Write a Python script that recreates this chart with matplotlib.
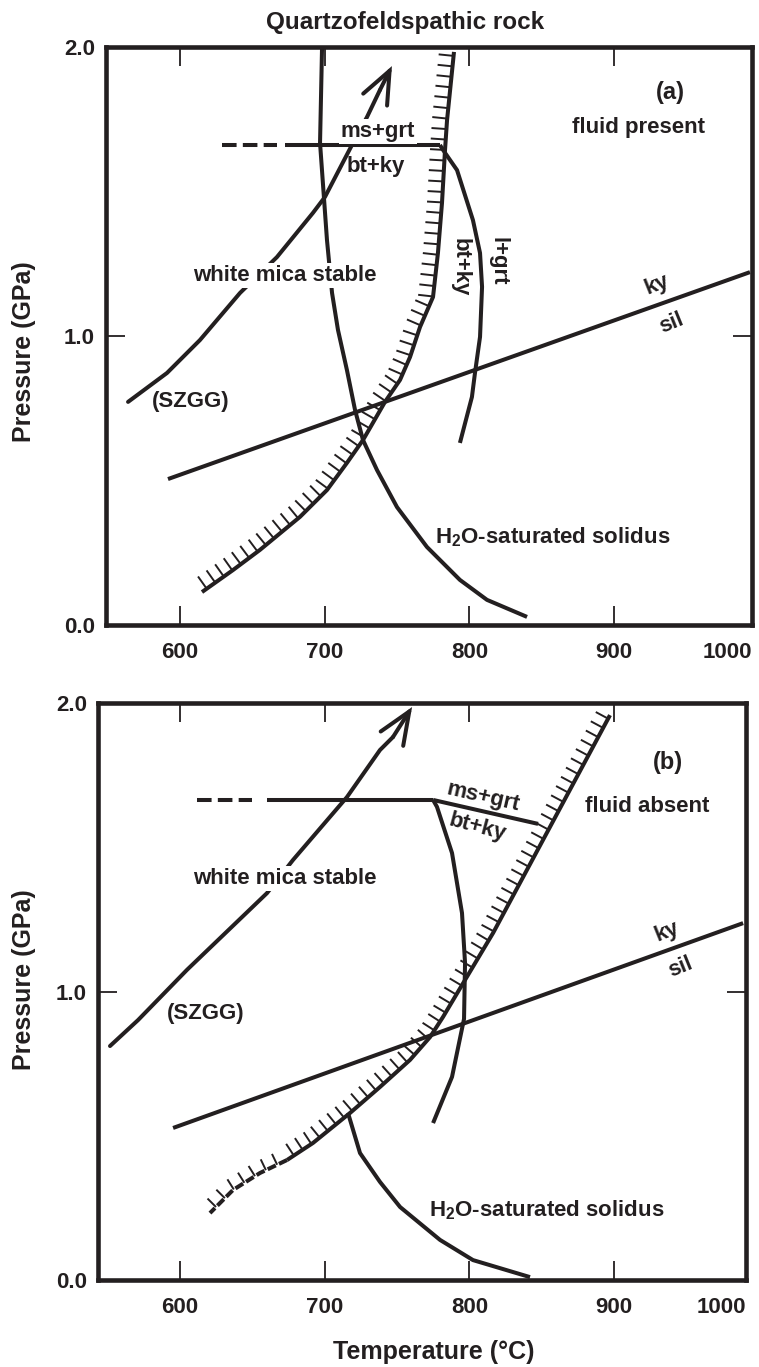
import numpy as np
import matplotlib
matplotlib.use('Agg')
import matplotlib.pyplot as plt
from matplotlib.collections import LineCollection

plt.rcParams['font.family'] = ['Liberation Sans', 'DejaVu Sans']
plt.rcParams['font.weight'] = 'bold'
plt.rcParams['mathtext.fontset'] = 'custom'
plt.rcParams['mathtext.bf'] = 'Liberation Sans:bold'
plt.rcParams['mathtext.rm'] = 'Liberation Sans:bold'
plt.rcParams['mathtext.default'] = 'bf'
plt.rcParams['lines.scale_dashes'] = False

INK = '#231f20'

# ---------------- data: panel (a) fluid present ----------------
a_solidus_T = [698.2, 696.8, 701.6, 705.1, 709.2, 715.4, 721.0, 726.5, 736.2, 750.0, 770.7, 793.5, 812.2, 839.9]
a_solidus_P = [2.0, 1.668, 1.332, 1.149, 1.021, 0.882, 0.744, 0.640, 0.536, 0.408, 0.270, 0.156, 0.087, 0.028]

a_hatch_T = [789.4, 784.6, 783.2, 781.1, 778.3, 774.9, 765.9, 759.0, 752.1, 741.7, 726.5,
             715.4, 701.6, 682.9, 655.3, 636.6, 615.2]
a_hatch_P = [1.983, 1.747, 1.644, 1.460, 1.287, 1.135, 1.031, 0.927, 0.848, 0.772, 0.640,
             0.561, 0.467, 0.374, 0.260, 0.190, 0.114]

a_path_T = [564.1, 591.0, 613.8, 641.5, 667.0, 691.9, 700.2, 719.6, 729.3, 738.2, 746.5]
a_path_P = [0.772, 0.872, 0.986, 1.149, 1.273, 1.426, 1.481, 1.668, 1.758, 1.851, 1.934]

a_rxn_dash_T = [629.0, 667.0]
a_rxn_solid_T = [672.6, 779.7]
a_rxn_P = 1.661

a_lgrt_T = [779.7, 781.8, 791.5, 802.5, 807.4, 808.8, 807.4, 803.9, 801.8, 793.5]
a_lgrt_P = [1.661, 1.644, 1.574, 1.401, 1.287, 1.170, 0.997, 0.872, 0.789, 0.630]

a_kysil_T = [591.7, 994.0]
a_kysil_P = [0.505, 1.221]

# ---------------- data: panel (b) fluid absent ----------------
b_path_T = [551.6, 571.0, 604.8, 660.1, 678.1, 715.4, 738.2, 747.2, 760.4]
b_path_P = [0.811, 0.901, 1.075, 1.341, 1.456, 1.674, 1.837, 1.882, 1.986]

b_rxn_dash_T = [611.8, 649.8]
b_rxn_solid_T = [660.1, 774.9]
b_rxn_P = 1.664
b_msgrt_T = [774.9, 847.5]
b_msgrt_P = [1.664, 1.581]

b_btky_T = [774.9, 777.6, 788.0, 794.9, 797.0, 796.3, 788.0, 774.9]
b_btky_P = [1.664, 1.640, 1.480, 1.272, 1.099, 0.905, 0.704, 0.544]

b_hatch_T = [897.2, 816.4, 797.0, 781.8, 772.8, 759.0, 738.2, 717.5, 691.9, 674.0]
b_hatch_P = [1.958, 1.203, 1.040, 0.912, 0.842, 0.763, 0.669, 0.579, 0.475, 0.416]
b_hatch_dash_T = [674.0, 655.3, 636.6, 620.7]
b_hatch_dash_P = [0.416, 0.371, 0.312, 0.232]

b_solidus_T = [716.1, 724.4, 738.2, 752.1, 779.7, 802.5, 841.9]
b_solidus_P = [0.579, 0.440, 0.340, 0.253, 0.139, 0.069, 0.010]

b_kysil_T = [595.2, 989.2]
b_kysil_P = [0.527, 1.237]

x_ticks = [600, 700, 800, 900]
x_ticklabels = ['600', '700', '800', '900']
y_ticks = [0.0, 1.0, 2.0]
y_ticklabels = ['0.0', '1.0', '2.0']

LW = 2.9
FS = 16

fig = plt.figure(figsize=(7.59, 13.67), dpi=100)
W, H = 759.0, 1367.0
axa = fig.add_axes([106 / W, 1 - 625 / H, 646 / W, 578 / H])
axb = fig.add_axes([98 / W, 1 - 1280 / H, 648 / W, 577 / H])


def style(ax, xlim):
    ax.set_xlim(*xlim)
    ax.set_ylim(0, 2)
    for s in ax.spines.values():
        s.set_linewidth(3.3)
        s.set_color(INK)
    ax.set_xticks(x_ticks + [xlim[1]])
    ax.set_xticklabels(x_ticklabels + ['1000'])
    ax.set_yticks(y_ticks)
    ax.set_yticklabels(y_ticklabels)
    ax.tick_params(direction='in', length=14, width=1.3, color=INK,
                   top=True, right=True, labelsize=FS, labelcolor=INK)
    ax.tick_params(axis='x', pad=12)
    ax.tick_params(axis='y', pad=8)
    xt = ax.xaxis.get_major_ticks()
    xt[-1].tick1line.set_visible(False)
    xt[-1].tick2line.set_visible(False)
    ax.get_xticklabels()[-1].set_horizontalalignment('right')
    yt = ax.yaxis.get_major_ticks()
    for i in (0, 2):
        yt[i].tick1line.set_visible(False)
        yt[i].tick2line.set_visible(False)


style(axa, (548.85, 995.4))
style(axb, (543.3, 991.2))


def line(ax, T, P, cap='butt', **kw):
    kw.setdefault('lw', LW)
    ax.plot(T, P, color=INK, solid_capstyle=cap, solid_joinstyle='round', **kw)


def hatches(ax, T, P, spacing=10.5, length=15.0, offset=4.0, lw=1.4):
    pts = ax.transData.transform(np.column_stack([T, P]))
    seg = np.diff(pts, axis=0)
    d = np.hypot(seg[:, 0], seg[:, 1])
    s = np.concatenate([[0], np.cumsum(d)])
    si = np.arange(offset, s[-1], spacing)
    bx = np.interp(si, s, pts[:, 0])
    by = np.interp(si, s, pts[:, 1])
    idx = np.clip(np.searchsorted(s, si, side='right') - 1, 0, len(d) - 1)
    tx = seg[idx, 0] / d[idx]
    ty = seg[idx, 1] / d[idx]
    nx, ny = ty, -tx
    base = np.column_stack([bx, by])
    tip = np.column_stack([bx + nx * length, by + ny * length])
    inv = ax.transData.inverted()
    b_d = inv.transform(base)
    t_d = inv.transform(tip)
    segs = [[b_d[i], t_d[i]] for i in range(len(si))]
    ax.add_collection(LineCollection(segs, colors=INK, linewidths=lw, capstyle='butt'))


def arrow(ax, T, P):
    line(ax, T[:-1], P[:-1], cap='round')
    ax.annotate('', xy=(T[-1], P[-1]), xytext=(T[-2], P[-2]),
                arrowprops=dict(arrowstyle='->,head_length=1.45,head_width=0.6',
                                lw=LW, color=INK, shrinkA=0, shrinkB=0,
                                mutation_scale=16, joinstyle='miter'))


WHITE = dict(facecolor='white', edgecolor='none', pad=1.5)

# ---------- panel (a) ----------
ax = axa
line(ax, a_solidus_T, a_solidus_P)
line(ax, a_hatch_T, a_hatch_P)
hatches(ax, a_hatch_T, a_hatch_P)
arrow(ax, a_path_T, a_path_P)
ax.plot(a_rxn_dash_T, [a_rxn_P] * 2, color=INK, lw=LW, linestyle=(0, (10.5, 4.5)), dash_capstyle='butt')
line(ax, a_rxn_solid_T, [a_rxn_P] * 2)
line(ax, a_lgrt_T, a_lgrt_P)
line(ax, a_kysil_T, a_kysil_P)

ax.text(938.7, 1.841, '(a)', fontsize=17, ha='center', va='center', color=INK)
ax.text(916.6, 1.720, 'fluid present', fontsize=FS, ha='center', va='center', color=INK)
ax.text(736.9, 1.709, 'ms+grt', fontsize=FS, ha='center', va='center', color=INK, bbox=WHITE, zorder=5)
ax.text(735.5, 1.588, 'bt+ky', fontsize=FS, ha='center', va='center', color=INK)
ax.text(609.0, 1.211, 'white mica stable', fontsize=FS, ha='left', va='center', color=INK, bbox=WHITE, zorder=5)
ax.text(580.6, 0.772, '(SZGG)', fontsize=FS, ha='left', va='center', color=INK)
ax.text(793.5, 1.239, 'bt+ky', fontsize=FS, ha='center', va='center', rotation=-90, color=INK)
ax.text(819.8, 1.260, 'l+grt', fontsize=FS, ha='center', va='center', rotation=-90, color=INK)
ax.text(929.7, 1.176, 'ky', fontsize=FS, ha='center', va='center', rotation=22, color=INK)
ax.text(940.1, 1.045, 'sil', fontsize=FS, ha='center', va='center', rotation=22, color=INK)
ax.text(776.3, 0.304, 'H$_2$O-saturated solidus', fontsize=FS, ha='left', va='center', color=INK)

# ---------- panel (b) ----------
ax = axb
arrow(ax, b_path_T, b_path_P)
ax.plot(b_rxn_dash_T, [b_rxn_P] * 2, color=INK, lw=LW, linestyle=(0, (10.5, 4.5)), dash_capstyle='butt')
line(ax, b_rxn_solid_T, [b_rxn_P] * 2)
line(ax, b_msgrt_T, b_msgrt_P)
line(ax, b_btky_T, b_btky_P)
line(ax, b_hatch_T, b_hatch_P)
hatches(ax, b_hatch_T, b_hatch_P, length=14.0)
ax.plot(b_hatch_dash_T, b_hatch_dash_P, color=INK, lw=LW, linestyle=(0, (6.5, 2.5)), dash_capstyle='butt')
hatches(ax, b_hatch_dash_T, b_hatch_dash_P, spacing=12.5, offset=11.0, length=12.0)
line(ax, b_solidus_T, b_solidus_P)
line(ax, b_kysil_T, b_kysil_P)

ax.text(937.3, 1.795, '(b)', fontsize=17, ha='center', va='center', color=INK)
ax.text(922.8, 1.640, 'fluid absent', fontsize=FS, ha='center', va='center', color=INK)
ax.text(809.4, 1.674, 'ms+grt', fontsize=FS, ha='center', va='center', rotation=-13, color=INK)
ax.text(805.3, 1.570, 'bt+ky', fontsize=FS, ha='center', va='center', rotation=-15, color=INK)
ax.text(609.0, 1.393, 'white mica stable', fontsize=FS, ha='left', va='center', color=INK, bbox=WHITE, zorder=5)
ax.text(591.0, 0.925, '(SZGG)', fontsize=FS, ha='left', va='center', color=INK)
ax.text(936.6, 1.206, 'ky', fontsize=FS, ha='center', va='center', rotation=22, color=INK)
ax.text(945.6, 1.085, 'sil', fontsize=FS, ha='center', va='center', rotation=22, color=INK)
ax.text(772.1, 0.243, 'H$_2$O-saturated solidus', fontsize=FS, ha='left', va='center', color=INK)

# ---------- figure texts ----------
fig.text(405 / W, 1 - 22 / H, 'Quartzofeldspathic rock', fontsize=17.5, ha='center', va='center', color=INK)
fig.text(434 / W, 1 - 1352 / H, 'Temperature (°C)', fontsize=18, ha='center', va='center', color=INK)
fig.text(24 / W, 1 - 352 / H, 'Pressure (GPa)', fontsize=18, rotation=90, ha='center', va='center', color=INK)
fig.text(24 / W, 1 - 980 / H, 'Pressure (GPa)', fontsize=18, rotation=90, ha='center', va='center', color=INK)

fig.savefig('out.png', dpi=100, facecolor='white')
